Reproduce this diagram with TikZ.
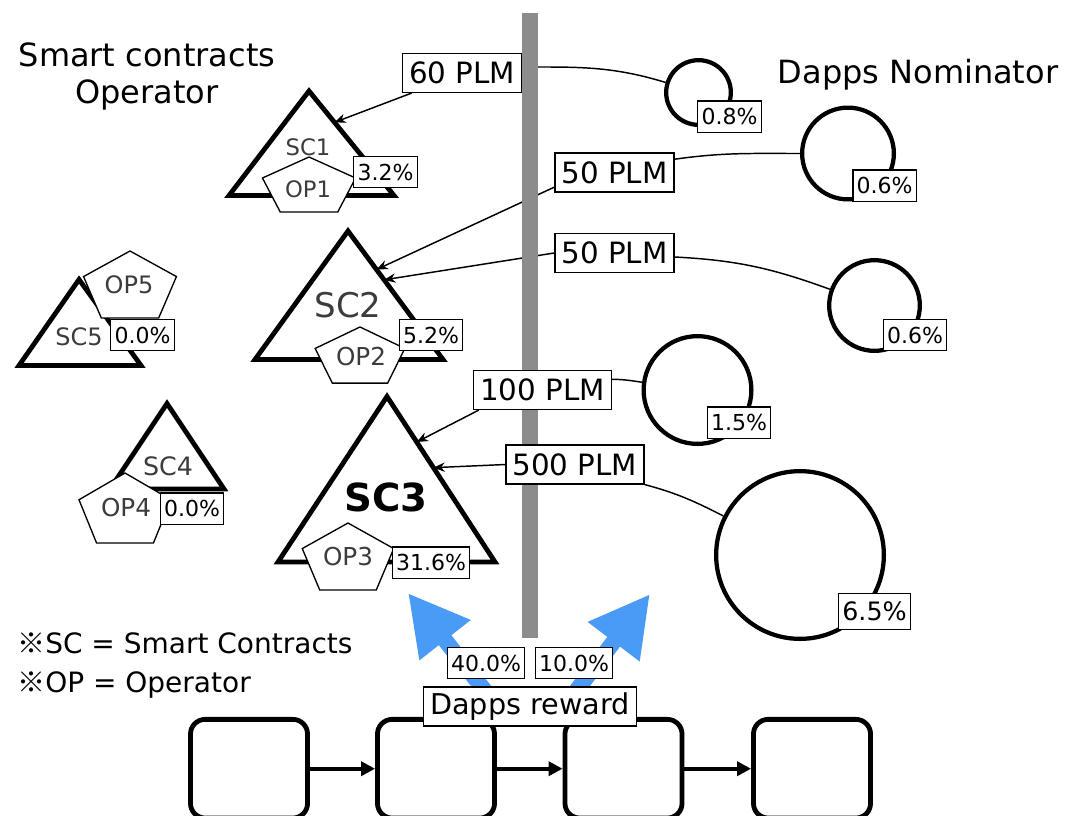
\documentclass[tikz,border=0pt]{standalone}
\usepackage{fontspec}
\setmainfont{DejaVu Sans}
\newfontfamily\cjk{Noto Sans CJK JP}
\usetikzlibrary{arrows.meta,calc,backgrounds}

\definecolor{rewardblue}{RGB}{74,155,245}
\definecolor{bargray}{RGB}{140,140,140}
\definecolor{labelgray}{RGB}{60,60,60}

\tikzset{
  plm/.style={draw, fill=white, line width=1.1pt, inner xsep=5pt, inner ysep=0pt,
    minimum height=29pt, font=\fontsize{22}{26}\selectfont},
  pct/.style={draw, fill=white, line width=1pt, inner xsep=2.8pt, inner ysep=0pt,
    minimum height=23.5pt, font=\fontsize{16.5}{19}\selectfont},
  nominator/.style={circle, draw, fill=white, line width=3.2pt, inner sep=0pt},
  contract/.style={draw, fill=white, line width=3.6pt, line join=miter},
  operator/.style={draw, fill=white, line width=1pt},
  sclabel/.style={text=labelgray, inner sep=0pt},
  block/.style={draw, line width=3.6pt, rounded corners=11pt,
    minimum width=87.8pt, minimum height=74pt},
  link/.style={line width=1.1pt},
  chain/.style={line width=3pt, -{Triangle[length=10.5pt,width=10.5pt]}},
  reward arrow/.style={rewardblue, line width=12pt, -{Triangle[length=45pt,width=45.6pt]}},
}

\begin{document}
\begin{tikzpicture}[x=0.75pt, y=0.75pt, >={Stealth[length=8.5pt,width=7pt]}]
  \useasboundingbox (0,0) rectangle (1066,-815);

  % smart contracts
  \coordinate (sc1-top) at (309,-91);    \coordinate (sc1-left) at (229,-195.5); \coordinate (sc1-right) at (394,-195.5);
  \coordinate (sc2-top) at (348,-231);   \coordinate (sc2-left) at (255,-359.5); \coordinate (sc2-right) at (443,-359.5);
  \coordinate (sc3-top) at (387,-396.5); \coordinate (sc3-left) at (278,-562);   \coordinate (sc3-right) at (495,-562);
  \coordinate (sc4-top) at (167,-403.5); \coordinate (sc4-left) at (110,-489);   \coordinate (sc4-right) at (224,-489);
  \coordinate (sc5-top) at (79,-279.5);  \coordinate (sc5-left) at (19,-365.5);  \coordinate (sc5-right) at (141,-365.5);
  \foreach \n in {1,...,5}
    \draw[contract] (sc\n-top) -- (sc\n-left) -- (sc\n-right) -- cycle;

  % operators
  \foreach \x/\y/\s/\r in {309/-187.4/1.61/30.4, 360/-358/1.52/31, 348/-560/1.30/37,
                           125/-511.7/1.25/38.7, 130/-288/1.32/37}
    \draw[operator, shift={(\x,\y)}, xscale=\s]
      (90:\r) -- (162:\r) -- (234:\r) -- (306:\r) -- (18:\r) -- cycle;

  \node[sclabel, font=\fontsize{17}{20}\selectfont] (sc1) at (308,-147) {SC1};
  \node[sclabel, font=\fontsize{17}{20}\selectfont] (op1) at (308,-189) {OP1};
  \node[pct] (sc1pct) at (385.5,-172) {3.2\%};

  \node[sclabel, font=\fontsize{25.5}{30}\selectfont] (sc2) at (348,-305) {SC2};
  \node[sclabel, font=\fontsize{18.5}{22}\selectfont] (op2) at (361,-357) {OP2};
  \node[pct] (sc2pct) at (431,-335) {5.2\%};

  \node[inner sep=0pt, font=\fontsize{29}{34}\selectfont\bfseries] (sc3) at (386,-497) {SC3};
  \node[sclabel, font=\fontsize{18.5}{22}\selectfont] (op3) at (348,-557) {OP3};
  \node[pct] (sc3pct) at (431,-562.5) {31.6\%};

  \node[sclabel, font=\fontsize{19}{22}\selectfont] (sc4) at (168,-466) {SC4};
  \node[sclabel, font=\fontsize{18.5}{22}\selectfont] (op4) at (126,-508) {OP4};
  \node[pct] (sc4pct) at (192,-508.5) {0.0\%};

  \node[sclabel, font=\fontsize{18}{22}\selectfont] (sc5) at (79,-337) {SC5};
  \node[sclabel, font=\fontsize{18}{22}\selectfont] (op5) at (129,-285) {OP5};
  \node[pct] (sc5pct) at (142.5,-335) {0.0\%};

  \coordinate (sc1in) at ($(sc1-top)!0.3!(sc1-right)$);
  \coordinate (sc2ina) at ($(sc2-top)!0.3!(sc2-right)$);
  \coordinate (sc2inb) at ($(sc2-top)!0.38!(sc2-right)$);
  \coordinate (sc3ina) at ($(sc3-top)!0.275!(sc3-right)$);
  \coordinate (sc3inb) at ($(sc3-top)!0.43!(sc3-right)$);

  % nominators
  \node[nominator, minimum size=48.5pt] (c1) at (698.5,-92.5) {};
  \node[nominator, minimum size=68.8pt] (c2) at (848,-153.5) {};
  \node[nominator, minimum size=68pt] (c3) at (874.5,-305.5) {};
  \node[nominator, minimum size=80.8pt] (c4) at (697.5,-390) {};
  \node[nominator, minimum size=125.8pt] (c5) at (800,-555) {};
  \node[pct] (c1pct) at (729.5,-116.5) {0.8\%};
  \node[pct] (c2pct) at (884.5,-185.5) {0.6\%};
  \node[pct] (c3pct) at (915,-335) {0.6\%};
  \node[pct] (c4pct) at (739,-422.5) {1.5\%};
  \node[pct, font=\fontsize{19}{22}\selectfont, minimum height=27pt] (c5pct) at (874.5,-611.5) {6.5\%};

  \node[align=center, anchor=north, inner sep=0pt, font=\fontsize{24}{27.75}\selectfont]
    (scop) at (147,-42) {Smart contracts\\Operator};
  \node[anchor=base, inner sep=0pt, font=\fontsize{24}{28}\selectfont]
    (dn) at (918,-83) {Dapps Nominator};

  % era line
  \draw[bargray, line width=12pt] (530,-13) -- (530,-638);

  \node[plm] (p60) at (462,-73) {60 PLM};
  \node[plm] (p50a) at (614.5,-172.5) {50 PLM};
  \node[plm] (p50b) at (614.5,-253) {50 PLM};
  \node[plm] (p100) at (542.5,-390) {100 PLM};
  \node[plm] (p500) at (575,-464.5) {500 PLM};

  % blocks
  \foreach \i/\x in {1/249, 2/436, 3/623.5, 4/812}
    \node[block] (b\i) at (\x,-768.7) {};

  \node[pct] (rsc) at (486,-663) {40.0\%};
  \node[pct] (rdn) at (574,-663) {10.0\%};
  \node[plm, font=\fontsize{21.5}{25}\selectfont, inner xsep=5pt] (reward) at (530,-706.5) {Dapps reward};

  \coordinate (blueL) at (408,-593);
  \coordinate (blueR) at (650,-594);

  \node[anchor=base west, inner sep=0pt, font=\fontsize{21}{25}\selectfont]
    (legsc) at (17,-653) {{\cjk ※}SC = Smart Contracts};
  \node[anchor=base west, inner sep=0pt, font=\fontsize{21}{25}\selectfont]
    (legop) at (17,-692) {{\cjk ※}OP = Operator};

  \begin{scope}[on background layer]
    \draw[link] ([yshift=4.5pt]p60.east) to[out=0,in=163] (c1);
    \draw[link] ([yshift=10pt]p50a.east) to[out=8,in=180] (c2);
    \draw[link] ([yshift=-3pt]p50b.east) to[out=-3,in=160] (c3);
    \draw[link] ([yshift=8pt]p100.east) to[out=0,in=172] (c4);
    \draw[link] (p500.south east) to[out=-15,in=153] (c5);

    \draw[link,->] ([xshift=7.5pt]p60.south west) -- (sc1in);
    \draw[link,->] ([yshift=4pt]p50a.south west) -- (sc2ina);
    \draw[link,->] (p50b.west) -- (sc2inb);
    \draw[link,->] ([xshift=4.5pt]p100.south west) -- (sc3ina);
    \draw[link,->] (p500.west) -- (sc3inb);

    \draw[reward arrow] ($(reward.center)+(-35.5,3.5)$) -- (blueL);
    \draw[reward arrow] ($(reward.center)+(37,3.5)$) -- (blueR);

    \foreach \i/\j in {1/2, 2/3, 3/4}
      \draw[chain] (b\i) -- (b\j);
  \end{scope}
\end{tikzpicture}
\end{document}
